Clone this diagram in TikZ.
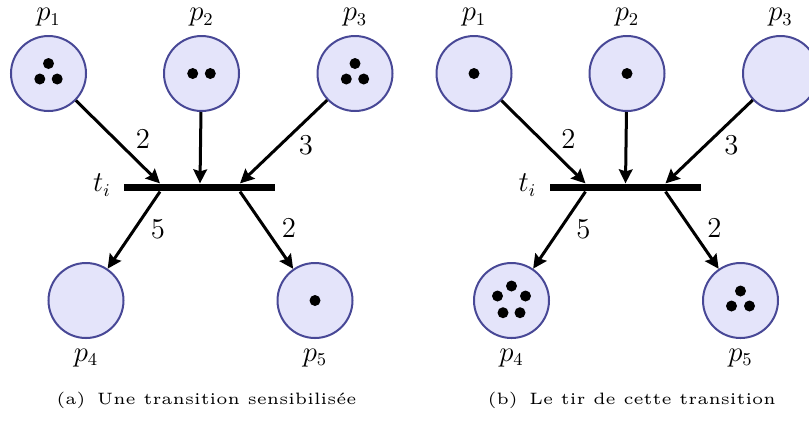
\documentclass[tikz,border=0pt]{standalone}
\usepackage{graphicx}
\usetikzlibrary{arrows.meta,calc}
\definecolor{placefill}{RGB}{228,228,250}
\definecolor{placedraw}{RGB}{72,72,150}
\begin{document}
\begin{tikzpicture}[x=0.5pt,y=-0.5pt,
  place/.style={circle,draw=placedraw,fill=placefill,line width=1pt,minimum size=37.5pt,inner sep=0pt},
  tbar/.style={fill=black,minimum width=75.5pt,minimum height=3.7pt,inner sep=0pt},
  arc/.style={line width=1.5pt,-{Stealth[length=7pt,width=6.8pt,inset=1pt]}},
  lab/.style={font=\fontsize{13.5}{16}\selectfont,inner sep=0pt},
  captext/.style={inner sep=0pt},
  tok/.style={fill=black}
]
\useasboundingbox (0,0) rectangle (809,420);
\clip (0,0) rectangle (809,420);

% ---------- panel (a) ----------
\node[place] (a1) at (48.5,73.5) {};
\node[place] (a2) at (201.5,73.5) {};
\node[place] (a3) at (355,73.5) {};
\node[place] (a4) at (86,300.5) {};
\node[place] (a5) at (315,300.5) {};
\node[tbar] (at) at (199.5,187.5) {};
\coordinate (ain1) at ($(at.north)+(-39.5,0)$);
\coordinate (ain2) at ($(at.north)+(0.5,0)$);
\coordinate (ain3) at ($(at.north)+(40.5,0)$);
\coordinate (aout1) at ($(at.south)+(-39.5,0)$);
\coordinate (aout2) at ($(at.south)+(40.5,0)$);
\draw[arc] (a1) -- (ain1);
\draw[arc] (a2) -- (ain2);
\draw[arc] (a3) -- (ain3);
\draw[arc] (aout1) -- (a4);
\draw[arc] (aout2) -- (a5);
\node[lab] (aw1) at (143,139) {$2$};
\node[lab] (aw3) at (306,145) {$3$};
\node[lab] (aw4) at (158,229) {$5$};
\node[lab] (aw5) at (289,228) {$2$};
\node[lab] (ap1) at (48.5,17.5) {$p_1$};
\node[lab] (ap2) at (201.5,17.5) {$p_2$};
\node[lab] (ap3) at (355,17.5) {$p_3$};
\node[lab] (ap4) at (86,358) {$p_4$};
\node[lab] (ap5) at (315,358) {$p_5$};
\node[lab,anchor=east] (ati) at (111,185) {$t_i$};
% tokens
\fill[tok] ($(a1)+(0,-10)$) circle (2.75pt);
\fill[tok] ($(a1)+(-8.7,5.5)$) circle (2.75pt);
\fill[tok] ($(a1)+(8.7,5.5)$) circle (2.75pt);
\fill[tok] ($(a2)+(-8.8,0)$) circle (2.75pt);
\fill[tok] ($(a2)+(8.8,0)$) circle (2.75pt);
\fill[tok] ($(a3)+(0,-10)$) circle (2.75pt);
\fill[tok] ($(a3)+(-8.7,5.5)$) circle (2.75pt);
\fill[tok] ($(a3)+(8.7,5.5)$) circle (2.75pt);
\fill[tok] (a5) circle (2.75pt);
\node[captext] (capa) at (206.5,400) {\scalebox{1.65}{\tiny (a)\hspace{3.5pt}Une transition sensibilis\'ee}};

% ---------- panel (b) ----------
\node[place] (b1) at (474,73.5) {};
\node[place] (b2) at (627,73.5) {};
\node[place] (b3) at (780.5,73.5) {};
\node[place] (b4) at (511.5,300.5) {};
\node[place] (b5) at (740.5,300.5) {};
\node[tbar] (bt) at (625,187.5) {};
\coordinate (bin1) at ($(bt.north)+(-39.5,0)$);
\coordinate (bin2) at ($(bt.north)+(0.5,0)$);
\coordinate (bin3) at ($(bt.north)+(40.5,0)$);
\coordinate (bout1) at ($(bt.south)+(-39.5,0)$);
\coordinate (bout2) at ($(bt.south)+(40.5,0)$);
\draw[arc] (b1) -- (bin1);
\draw[arc] (b2) -- (bin2);
\draw[arc] (b3) -- (bin3);
\draw[arc] (bout1) -- (b4);
\draw[arc] (bout2) -- (b5);
\node[lab] (bw1) at (568.5,139) {$2$};
\node[lab] (bw3) at (731.5,145) {$3$};
\node[lab] (bw4) at (583.5,229) {$5$};
\node[lab] (bw5) at (714.5,228) {$2$};
\node[lab] (bp1) at (474,17.5) {$p_1$};
\node[lab] (bp2) at (627,17.5) {$p_2$};
\node[lab] (bp3) at (780.5,17.5) {$p_3$};
\node[lab] (bp4) at (511.5,358) {$p_4$};
\node[lab] (bp5) at (740.5,358) {$p_5$};
\node[lab,anchor=east] (bti) at (536.5,185) {$t_i$};
% tokens
\fill[tok] (b1) circle (2.75pt);
\fill[tok] (b2) circle (2.75pt);
\fill[tok] ($(b4)+(0,-14.5)$) circle (2.75pt);
\fill[tok] ($(b4)+(-14,-4.5)$) circle (2.75pt);
\fill[tok] ($(b4)+(14,-4.5)$) circle (2.75pt);
\fill[tok] ($(b4)+(-8.5,12.2)$) circle (2.75pt);
\fill[tok] ($(b4)+(8.5,12.2)$) circle (2.75pt);
\fill[tok] ($(b5)+(0,-9.5)$) circle (2.75pt);
\fill[tok] ($(b5)+(-9,5.5)$) circle (2.75pt);
\fill[tok] ($(b5)+(9,5.5)$) circle (2.75pt);
\node[captext] (capb) at (631.7,400) {\scalebox{1.65}{\tiny (b)\hspace{3.5pt}Le tir de cette transition}};
\end{tikzpicture}
\end{document}
